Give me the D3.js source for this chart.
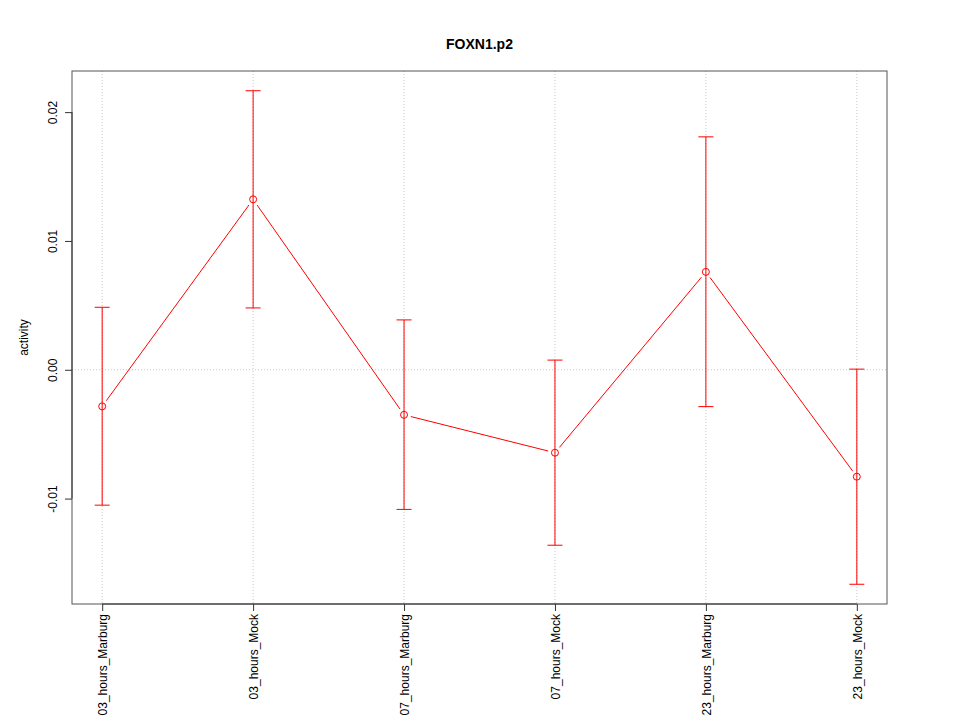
<!DOCTYPE html>
<html>
<head>
<meta charset="utf-8">
<script src="https://cdn.jsdelivr.net/npm/d3@7"></script>
<style>
body { margin: 0; background: #fff; }
svg { display: block; }
text { font-family: "Liberation Sans", Arial, Helvetica, sans-serif; }
</style>
</head>
<body>
<svg id="chart" width="960" height="720"></svg>
<script>
const categories = ["03_hours_Marburg", "03_hours_Mock", "07_hours_Marburg", "07_hours_Mock", "23_hours_Marburg", "23_hours_Mock"];
const means = [-0.00284, 0.01323, -0.00350, -0.00644, 0.00760, -0.00830];
const upper = [0.00485, 0.02166, 0.00387, 0.00075, 0.01808, 0.00005];
const lower = [-0.01051, 0.00480, -0.01084, -0.01362, -0.00286, -0.01665];
const yTicks = [-0.01, 0.00, 0.01, 0.02];
const yTickLabels = ["-0.01", "0.00", "0.01", "0.02"];
const title = "FOXN1.p2";
const yLabel = "activity";

const svg = d3.select("#chart");
const L = 72, R = 887, T = 71, B = 604;
const red = "#ff0000";

const n = categories.length;
const x = d3.scaleLinear().domain([1 - 0.04 * (n - 1), n + 0.04 * (n - 1)]).range([L, R]);
const yMin = d3.min(lower), yMax = d3.max(upper);
const pad = (yMax - yMin) * 0.04;
const y = d3.scaleLinear().domain([yMin - pad, yMax + pad]).range([B, T]);

// grid
const g = svg.append("g");
categories.forEach((c, i) => {
  g.append("line").attr("x1", x(i + 1)).attr("x2", x(i + 1)).attr("y1", T).attr("y2", B)
    .attr("stroke", "#c8c8c8").attr("stroke-dasharray", "1,2");
});
g.append("line").attr("x1", L).attr("x2", R).attr("y1", y(0)).attr("y2", y(0))
  .attr("stroke", "#c8c8c8").attr("stroke-dasharray", "1,2");

// box
svg.append("rect").attr("x", L).attr("y", T).attr("width", R - L).attr("height", B - T)
  .attr("fill", "none").attr("stroke", "#555").attr("stroke-width", 1);

// y axis
const yAxis = d3.axisLeft(y).tickValues(yTicks).tickSize(7).tickFormat((d, i) => yTickLabels[i]);
const ya = svg.append("g").attr("transform", `translate(${L},0)`).call(yAxis);
ya.select(".domain").attr("stroke", "#333").attr("d", `M-0,${y(yTicks[0])}V${y(yTicks[yTicks.length-1])}`);
ya.selectAll(".tick line").attr("stroke", "#333");
ya.selectAll(".tick text")
  .attr("font-size", 12).attr("fill", "#000")
  .attr("text-anchor", "middle")
  .attr("transform", "translate(-19,0) rotate(-90)")
  .attr("x", 0).attr("y", 0).attr("dy", "0.35em");

// x axis
const xAxis = d3.axisBottom(x).tickValues(d3.range(1, n + 1)).tickSize(7).tickFormat((d) => categories[d - 1]);
const xa = svg.append("g").attr("transform", `translate(0,${B})`).call(xAxis);
xa.select(".domain").attr("stroke", "#333").attr("d", `M${x(1)},0H${x(n)}`);
xa.selectAll(".tick line").attr("stroke", "#333");
xa.selectAll(".tick text")
  .attr("font-size", 12).attr("fill", "#000")
  .attr("text-anchor", "end")
  .attr("transform", "translate(0,10) rotate(-90)")
  .attr("x", 0).attr("y", 0).attr("dy", "0.35em");

// error bars
const eb = svg.append("g").attr("stroke", red).attr("stroke-width", 1);
categories.forEach((c, i) => {
  const cx = x(i + 1);
  eb.append("line").attr("x1", cx).attr("x2", cx).attr("y1", y(upper[i])).attr("y2", y(lower[i]));
  eb.append("line").attr("x1", cx - 7.5).attr("x2", cx + 7.5).attr("y1", y(upper[i])).attr("y2", y(upper[i]));
  eb.append("line").attr("x1", cx - 7.5).attr("x2", cx + 7.5).attr("y1", y(lower[i])).attr("y2", y(lower[i]));
});

// line segments with gaps (type = "b")
const gap = 7;
const lg = svg.append("g").attr("stroke", red).attr("stroke-width", 1);
for (let i = 0; i < n - 1; i++) {
  const x1 = x(i + 1), y1 = y(means[i]), x2 = x(i + 2), y2 = y(means[i + 1]);
  const dx = x2 - x1, dy = y2 - y1, len = Math.hypot(dx, dy);
  const ux = dx / len, uy = dy / len;
  lg.append("line").attr("x1", x1 + ux * gap).attr("y1", y1 + uy * gap)
    .attr("x2", x2 - ux * gap).attr("y2", y2 - uy * gap);
}

// points
svg.append("g").selectAll("circle").data(means).join("circle")
  .attr("cx", (d, i) => x(i + 1)).attr("cy", d => y(d)).attr("r", 3.5)
  .attr("fill", "none").attr("stroke", red).attr("stroke-width", 1);

// title
svg.append("text").attr("x", (L + R) / 2).attr("y", 49).attr("text-anchor", "middle")
  .attr("font-size", 14).attr("font-weight", "bold").text(title);

// y label
svg.append("text").attr("transform", `translate(28,${(T + B) / 2}) rotate(-90)`)
  .attr("text-anchor", "middle").attr("font-size", 12).text(yLabel);
</script>
</body>
</html>
